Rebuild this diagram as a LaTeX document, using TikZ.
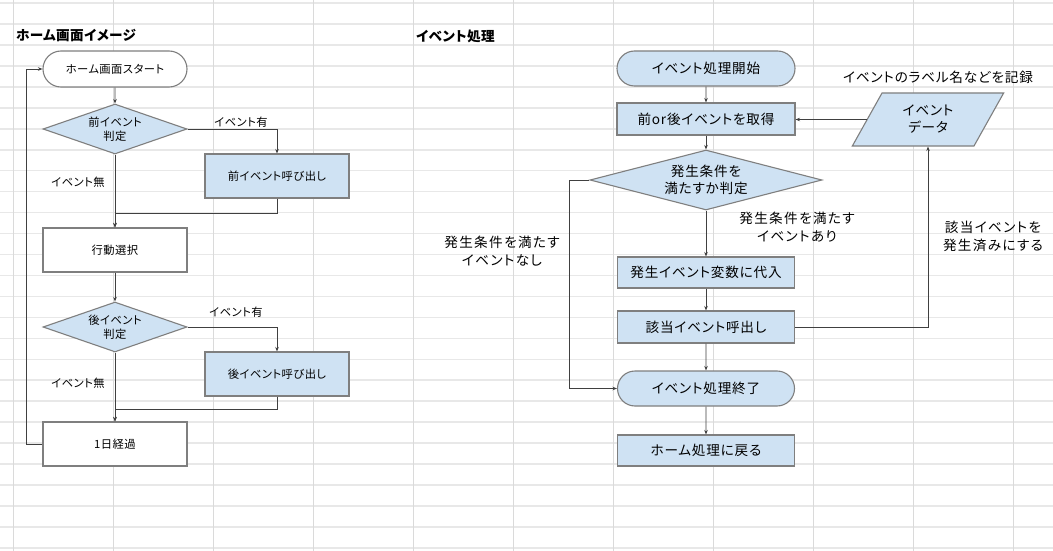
\documentclass[tikz,border=0pt]{standalone}
\usepackage{fontspec}
\setmainfont{Noto Sans CJK JP}[RawFeature=+palt]
\usetikzlibrary{shapes.geometric,shapes.misc,arrows.meta}
\definecolor{lblue}{HTML}{CFE2F3}
\definecolor{bord}{HTML}{7F7F7F}
\definecolor{connc}{HTML}{404040}
\definecolor{hgridc}{HTML}{E8E8E8}
\definecolor{vgridc}{HTML}{DADADA}
\tikzset{
  fsmall/.style={font=\fontsize{11.3}{13.5}\selectfont\addfontfeature{LetterSpace=4}},
  fbig/.style={font=\fontsize{13.6}{17}\selectfont\addfontfeature{LetterSpace=6}},
  flab/.style={font=\fontsize{13.6}{18}\selectfont\addfontfeature{LetterSpace=10}},
  ftitle/.style={font=\fontsize{13.6}{15}\selectfont\bfseries\addfontfeature{LetterSpace=3}},
  shp/.style={draw=bord, line width=1.1pt, inner sep=0pt, align=center},
  termnode/.style={shp, rounded rectangle},
  boxnode/.style={shp, rectangle},
  dianode/.style={shp, diamond, fill=lblue},
  arr/.style={draw=connc, line width=0.8pt, -{Stealth[length=4.5pt,width=3.5pt]}},
  lbl/.style={inner sep=0pt, align=center},
  hgrid/.style={draw=hgridc, line width=1.6pt},
  vgrid/.style={draw=vgridc, line width=0.9pt},
}
\begin{document}
\begin{tikzpicture}[x=1pt,y=-1pt]
\useasboundingbox (0,0) rectangle (1053,551);
\fill[white] (0,0) rectangle (1053,551);
% spreadsheet grid
\foreach \k in {0,...,26} \draw[hgrid] (0,3+20.96*\k) -- (1053,3+20.96*\k);
\foreach \i in {0,...,10} \draw[vgrid] (13+100*\i,0) -- (13+100*\i,551);

% titles
\node[lbl, anchor=west, ftitle] (t1) at (16,36) {ホーム画面イメージ};
\node[lbl, anchor=west, ftitle] (t2) at (416,36) {イベント処理};

% ---------- left flowchart ----------
\node[termnode, fsmall, fill=white, minimum width=144pt, minimum height=36pt] (hs) at (115,69) {ホーム画面スタート};
\node[dianode, fsmall, aspect=2.9, minimum width=144pt, minimum height=50pt] (d1) at (115,129) {前イベント\\判定};
\node[boxnode, fsmall, fill=lblue, minimum width=144pt, minimum height=44pt] (pre) at (277,176) {前イベント呼び出し};
\node[boxnode, fsmall, fill=white, minimum width=144pt, minimum height=44pt] (act) at (115,250) {行動選択};
\node[dianode, fsmall, aspect=2.9, minimum width=144pt, minimum height=50pt] (d2) at (115,327) {後イベント\\判定};
\node[boxnode, fsmall, fill=lblue, minimum width=144pt, minimum height=44pt] (post) at (277,374) {後イベント呼び出し};
\node[boxnode, fsmall, fill=white, minimum width=144pt, minimum height=44pt] (day) at (115,444) {1日経過};

\coordinate (m1) at (115,213);
\coordinate (m2) at (115,409);
\draw[arr] (hs) -- (d1);
\draw[arr] (d1.east) -| (pre.north);
\draw[arr] (pre.south) |- (m1) -- (act.north);
\draw[arr] (d1.south) -- (act.north);
\draw[arr] (act) -- (d2);
\draw[arr] (d2.east) -| (post.north);
\draw[arr] (post.south) |- (m2) -- (day.north);
\draw[arr] (d2.south) -- (day.north);
\draw[arr] (day.west) -- ++(-16,0) |- (hs.west);

\node[lbl, fsmall] (l1) at (241,122) {イベント有};
\node[lbl, fsmall] (l2) at (78,182) {イベント無};
\node[lbl, fsmall] (l3) at (236,312) {イベント有};
\node[lbl, fsmall] (l4) at (78,383) {イベント無};

% ---------- right flowchart ----------
\node[termnode, fbig, fill=lblue, minimum width=178pt, minimum height=35pt] (es) at (706,68.5) {イベント処理開始};
\node[boxnode, fbig, fill=lblue, minimum width=178pt, minimum height=32pt] (get) at (706,119) {前or後イベントを取得};
\node[dianode, fbig, aspect=3.9, minimum width=232pt, minimum height=60pt] (cond) at (706,180) {発生条件を\\満たすか判定};
\node[boxnode, fbig, fill=lblue, minimum width=177pt, minimum height=31pt] (assign) at (706,272.5) {発生イベント変数に代入};
\node[boxnode, fbig, fill=lblue, minimum width=177pt, minimum height=32pt] (call) at (706,327) {該当イベント呼出し};
\node[termnode, fbig, fill=lblue, minimum width=177pt, minimum height=35pt] (ee) at (706,388.5) {イベント処理終了};
\node[boxnode, fbig, fill=lblue, minimum width=177pt, minimum height=31pt] (ret) at (706,450.5) {ホーム処理に戻る};
\node[shp, fbig, fill=lblue, trapezium, trapezium left angle=60, trapezium right angle=120, trapezium stretches=true, minimum width=152pt, minimum height=53pt] (data) at (928,119.5) {イベント\\データ};

\draw[arr] (es) -- (get);
\draw[arr] (get) -- (cond);
\draw[arr] (cond) -- (assign);
\draw[arr] (assign) -- (call);
\draw[arr] (call) -- (ee);
\draw[arr] (ee) -- (ret);
\draw[arr] (cond.west) -- ++(-20,0) |- (ee.west);
\draw[arr] (call.east) -| (data.center |- data.south);
\draw[arr] (data.west) -- (data.west -| get.east);

\node[lbl, flab] (l5) at (502,251) {発生条件を満たす\\イベントなし};
\node[lbl, flab] (l6) at (797,227) {発生条件を満たす\\イベントあり};
\node[lbl, flab] (l7) at (993,236) {該当イベントを\\発生済みにする};
\node[lbl, fbig] (l8) at (938,77) {イベントのラベル名などを記録};
\end{tikzpicture}
\end{document}
